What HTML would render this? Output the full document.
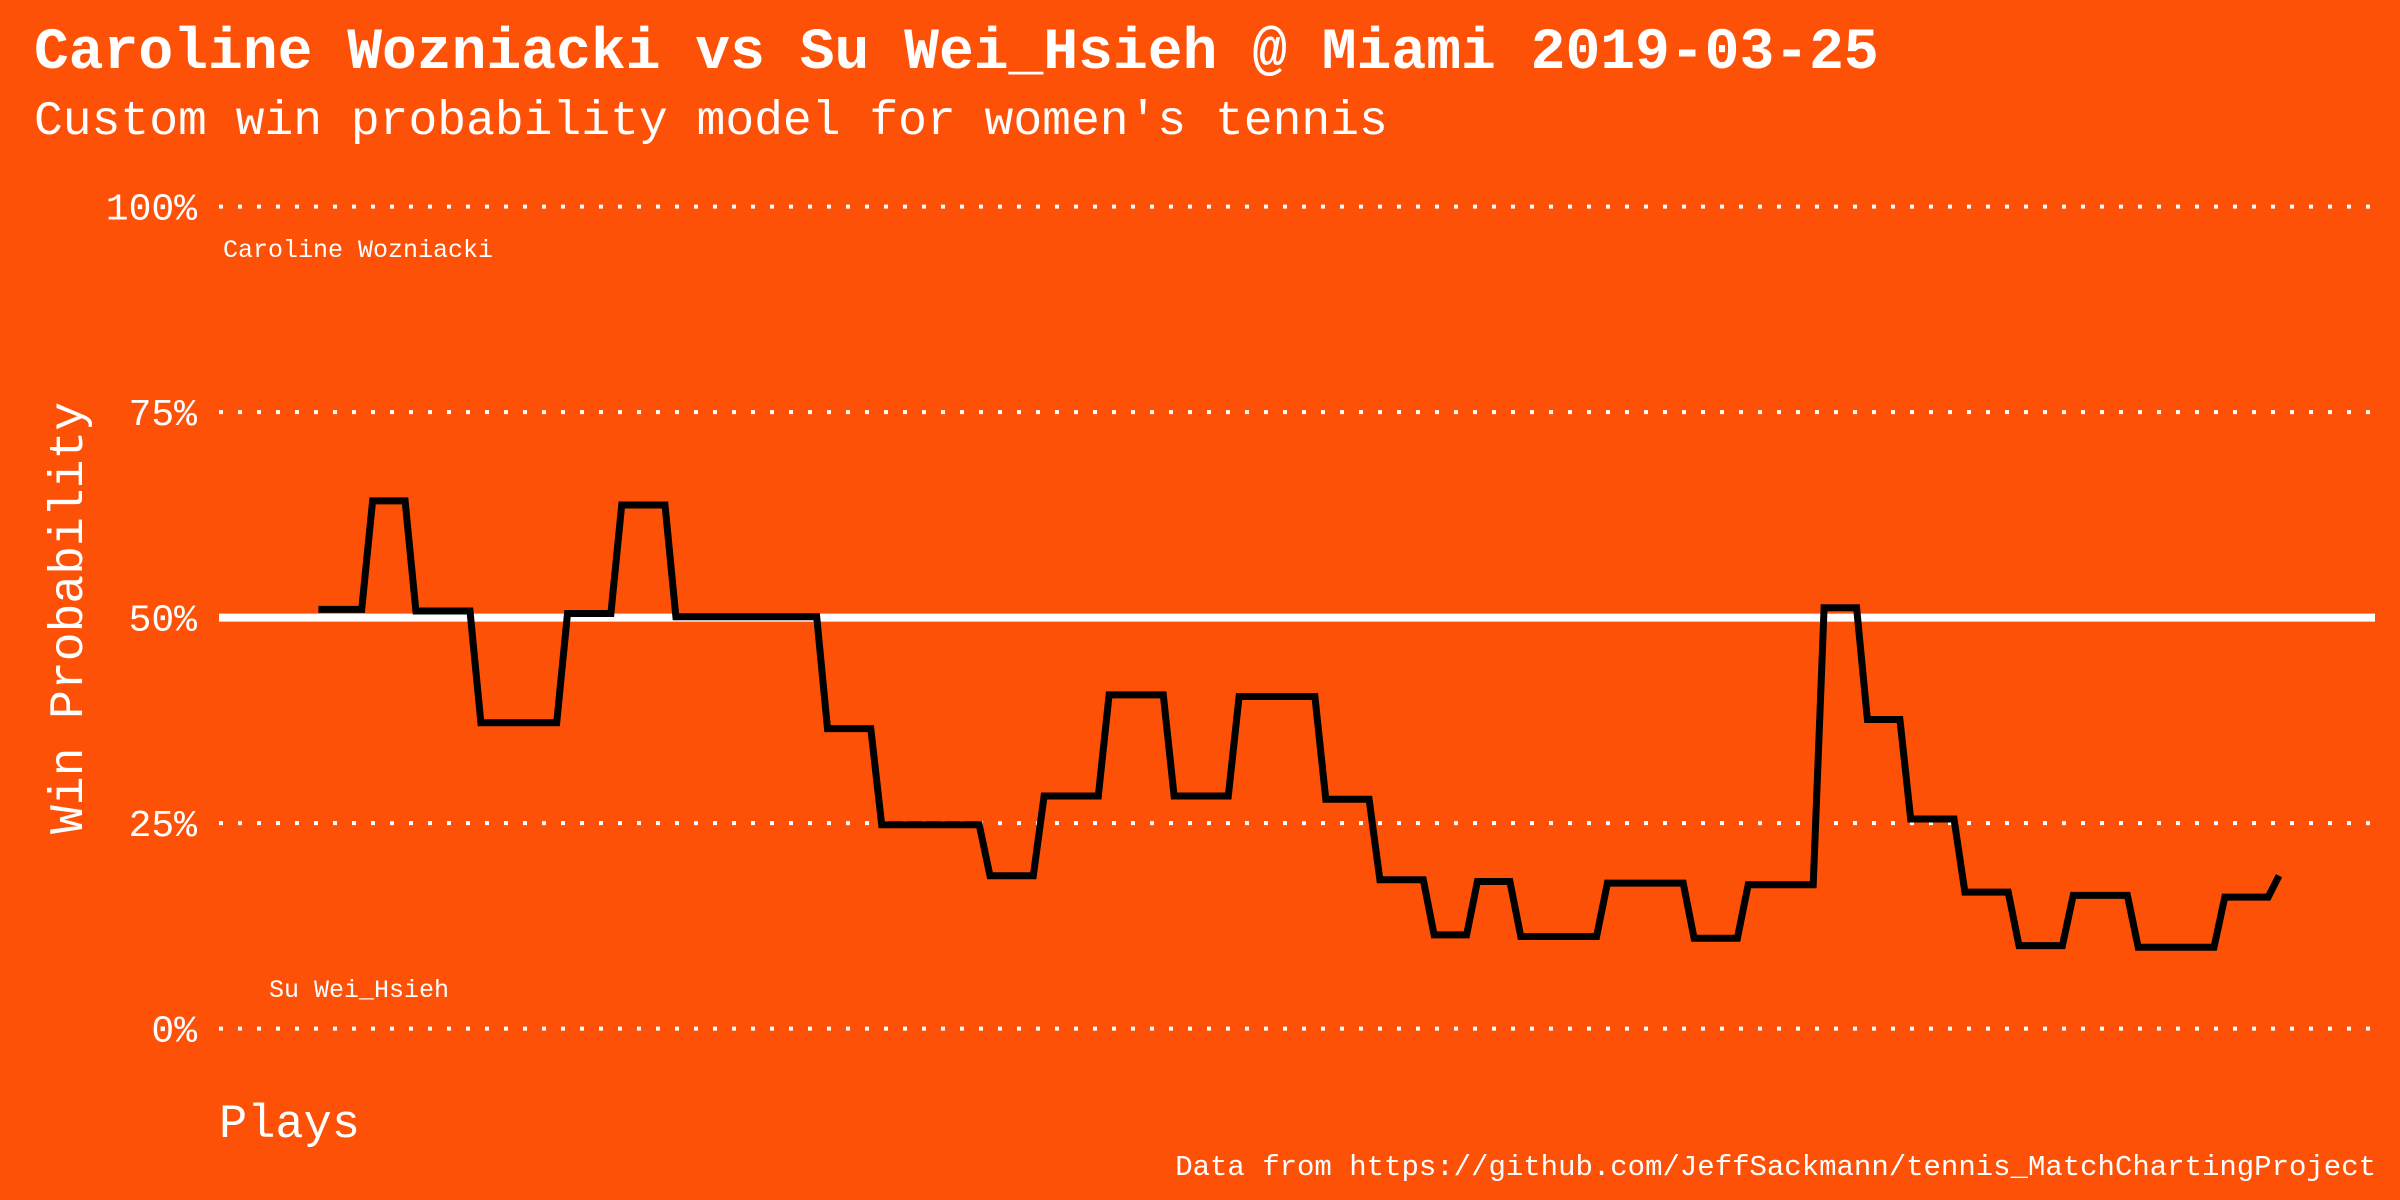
<!DOCTYPE html>
<html><head><meta charset="utf-8"><style>
html,body{margin:0;padding:0;background:#fe5108;}
svg{display:block;font-family:"Liberation Mono",monospace;}
</style></head><body>
<svg width="2400" height="1200" viewBox="0 0 2400 1200">
<rect width="2400" height="1200" fill="#fe5108"/>
<text x="34" y="68" font-size="58" font-weight="bold" fill="#fff">Caroline Wozniacki vs Su Wei_Hsieh @ Miami 2019-03-25</text>
<text x="34" y="134" font-size="48" fill="#fff">Custom win probability model for women's tennis</text>
<g id="grid"></g>
<g id="yticks"></g>
<text x="223" y="257" font-size="25" fill="#fff">Caroline Wozniacki</text>
<text x="269" y="997" font-size="25" fill="#fff">Su Wei_Hsieh</text>
<text transform="translate(82,618) rotate(-90)" text-anchor="middle" font-size="48" fill="#fff">Win Probability</text>
<text x="219" y="1137" font-size="47" fill="#fff">Plays</text>
<text x="2376" y="1175" text-anchor="end" font-size="29" fill="#fff">Data from https://github.com/JeffSackmann/tennis_MatchChartingProject</text>
<g id="series"></g>
</svg>
<script>
const yTicks = [0, 25, 50, 75, 100];
const yTickLabels = ["0%", "25%", "50%", "75%", "100%"];
const levelValues = [51.0,64.2,50.8,37.2,50.5,63.7,50.1,36.5,24.8,18.6,28.3,40.6,28.3,40.4,27.9,18.1,11.4,17.9,11.2,17.7,11.0,17.5,51.2,37.6,25.5,16.6,10.1,16.2,9.9,16.0,18.6];
const levelPlays = [5,4,6,8,5,5,14,5,10,5,6,6,6,8,5,5,4,4,8,8,5,7,4,4,5,5,5,6,8,5,1];
const probs = [];
levelValues.forEach((v,i)=>{for(let k=0;k<levelPlays[i];k++)probs.push(v);});
const NS="http://www.w3.org/2000/svg";
const X0=219,X1=2375,Y0=1028.6,Y100=206.6;
const N=probs.length;
function y(v){return Y0+(Y100-Y0)*v/100;}
function x(i){return 318.4+i*(2279-318.4)/(N-1);}
const grid=document.getElementById('grid'),yt=document.getElementById('yticks');
yTicks.forEach((t,i)=>{
  const l=document.createElementNS(NS,'line');
  l.setAttribute('x1',X0);l.setAttribute('x2',X1);l.setAttribute('y1',y(t));l.setAttribute('y2',y(t));
  l.setAttribute('stroke','#fff');
  if(t===50){l.setAttribute('stroke-width','8');}
  else{l.setAttribute('stroke-width','4');l.setAttribute('stroke-dasharray','4 15');}
  
  
  grid.appendChild(l);
  const tx=document.createElementNS(NS,'text');
  tx.setAttribute('x',197);tx.setAttribute('y',y(t)+13);
  tx.setAttribute('text-anchor','end');tx.setAttribute('font-size','38');tx.setAttribute('fill','#fff');
  tx.textContent=yTickLabels[i];
  
  
  yt.appendChild(tx);
});
const p=document.createElementNS(NS,'path');
p.setAttribute('d',probs.map((v,i)=>(i?'L':'M')+x(i).toFixed(1)+' '+y(v).toFixed(1)).join(' '));
p.setAttribute('fill','none');p.setAttribute('stroke','#000');p.setAttribute('stroke-width','7');


document.getElementById('series').appendChild(p);
</script>
</body></html>
